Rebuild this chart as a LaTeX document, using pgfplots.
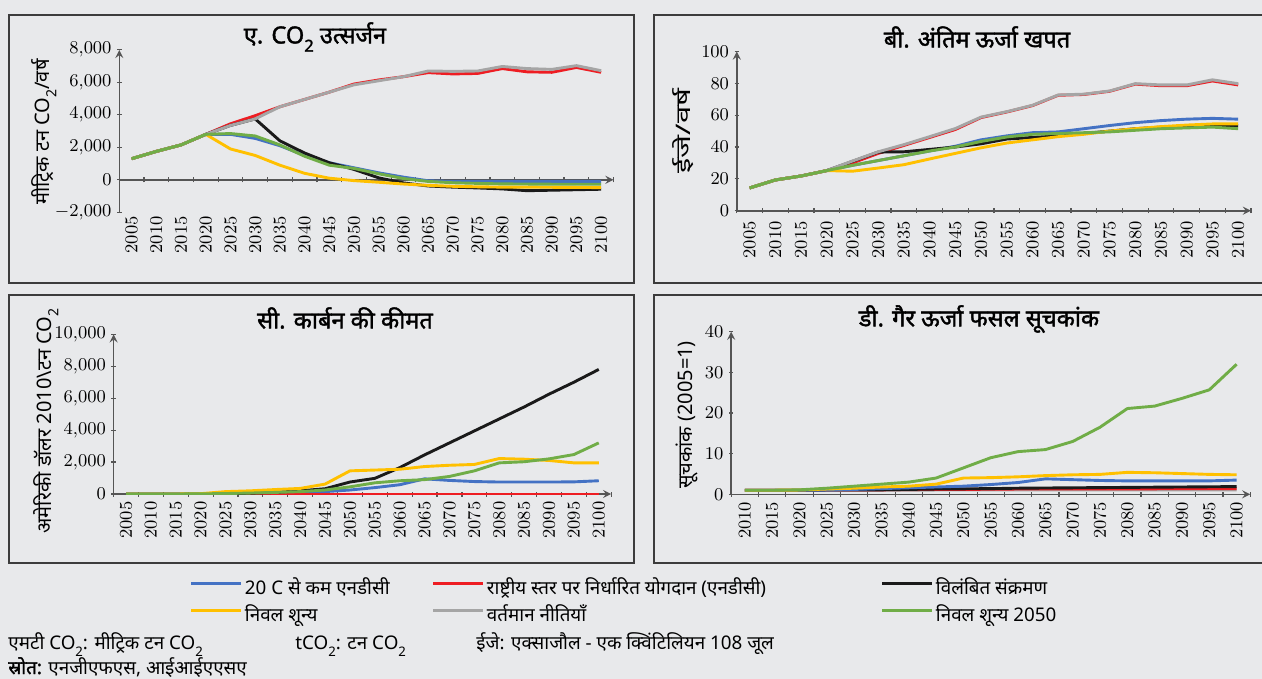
\documentclass[border=0pt]{standalone}
\usepackage{fontspec}
\setmainfont{Noto Sans}[Script=Devanagari]
\newfontfamily\tb{Noto Sans}[Script=Devanagari, FakeBold=1.6]
\usepackage{pgfplots}
\usepackage{pgfplotstable}
\pgfplotsset{compat=1.18}
\definecolor{bg}{HTML}{E8E9EB}
\definecolor{cblue}{HTML}{4472C4}
\definecolor{cred}{HTML}{EE1D23}
\definecolor{cblack}{HTML}{1A1A1A}
\definecolor{cyel}{HTML}{FFC000}
\definecolor{cgray}{HTML}{A5A5A5}
\definecolor{cgreen}{HTML}{70AD47}
\definecolor{axc}{HTML}{555555}
\definecolor{frm}{HTML}{3C3C3C}
\newcommand{\sub}[1]{\raisebox{-0.35em}{\scalebox{0.7}{#1}}}

\pgfplotstableread{
year blue red black yellow gray green
2005 1300 1300 1300 1300 1300 1300
2010 1750 1750 1750 1750 1750 1750
2015 2150 2150 2150 2150 2150 2150
2020 2800 2800 2800 2800 2800 2800
2025 2800 3450 3350 1900 3350 2850
2030 2550 3950 3750 1500 3750 2700
2035 2100 4500 2400 900 4500 2150
2040 1500 4950 1650 400 4950 1450
2045 1050 5400 1050 100 5400 900
2050 740 5900 640 -50 5850 700
2055 430 6150 120 -150 6100 370
2060 165 6350 -190 -260 6350 80
2065 -60 6600 -380 -340 6700 -100
2070 -100 6520 -450 -400 6680 -180
2075 -100 6550 -500 -430 6700 -220
2080 -100 6850 -560 -450 6980 -250
2085 -100 6650 -670 -450 6850 -260
2090 -100 6620 -640 -460 6800 -270
2095 -100 6920 -610 -470 7030 -270
2100 -100 6620 -580 -480 6720 -270
}\tabA

\pgfplotstableread{
year blue red black yellow gray green
2005 14.3 14.3 14.3 14.3 14.3 14.3
2010 19.3 19.3 19.3 19.3 19.3 19.3
2015 21.8 21.8 21.8 21.8 21.8 21.8
2020 25.2 25.2 25.2 25.2 25.2 25.2
2025 28.5 30 31 24.8 31.2 28.5
2030 31.5 36 36.8 26.8 37 31.5
2035 34.5 41 37 28.9 41.5 34.5
2040 37.5 46 38.5 32.5 46.5 37.5
2045 40.5 51 40 36 51.6 40
2050 44.5 58.5 42 39.5 58.8 43.5
2055 47 62 45 42.5 62.2 46.3
2060 49 66 46 44.5 66.2 48
2065 49.5 72.5 47 46.5 72.7 48.5
2070 51.5 73 48.5 48 73.2 49
2075 53.5 75 50 50 75.2 49.5
2080 55.3 79.5 51.5 51.5 79.8 50.5
2085 56.6 78.5 52.5 52.8 79 51.5
2090 57.5 78.5 53 53.8 79 52
2095 58 81.5 53.5 54.5 82.2 52.5
2100 57.5 79 53.5 54.5 79.8 51.5
}\tabB

\pgfplotstableread{
year blue red black yellow green
2005 0 0 0 0 0
2010 0 0 0 0 0
2015 0 0 0 0 0
2020 0 0 0 20 10
2025 10 0 20 150 30
2030 20 0 50 200 60
2035 50 0 100 280 100
2040 100 0 200 350 150
2045 150 0 330 620 250
2050 250 0 750 1450 450
2055 400 0 980 1500 700
2060 580 0 1650 1550 830
2065 950 0 2450 1720 900
2070 850 0 3200 1800 1100
2075 780 0 3950 1850 1450
2080 750 0 4700 2220 1950
2085 750 0 5450 2180 2020
2090 750 0 6250 2100 2200
2095 760 0 7000 1950 2470
2100 830 0 7800 1950 3200
}\tabC

\pgfplotstableread{
year blue red black yellow gray green
2010 1 1 1 1 1 1
2015 1 1 1 1 1 1
2020 1 1 1 1.05 1 1.1
2025 1.05 1.05 1.05 1.3 1 1.5
2030 1.2 1.1 1.05 1.5 1 2
2035 1.4 1.1 1.1 1.8 1 2.5
2040 1.6 1.15 1.2 2 1 3
2045 1.8 1.2 1.3 2.5 1.05 4
2050 2 1.2 1.35 4 1.05 6.5
2055 2.4 1.25 1.4 4.1 1.05 9
2060 2.9 1.3 1.5 4.3 1.05 10.5
2065 3.8 1.3 1.55 4.6 1.05 11
2070 3.6 1.3 1.6 4.8 1.05 13
2075 3.4 1.35 1.65 4.9 1.05 16.5
2080 3.3 1.35 1.7 5.4 1.05 21.1
2085 3.3 1.35 1.75 5.3 1.1 21.7
2090 3.3 1.4 1.8 5.1 1.1 23.6
2095 3.3 1.4 1.85 4.9 1.1 25.7
2100 3.5 1.4 1.9 4.8 1.1 32
}\tabD

\pgfplotsset{
  panel/.style={
    scale only axis,
    anchor=south west,
    axis line style={draw=axc, line width=0.8pt, -},
    tick style={draw=axc, line width=0.6pt},
    tick align=outside,
    major tick length=2.2pt,
    minor tick length=2.5pt,
    every major x tick/.append style={draw=none},
    y tick label style={font=\fontsize{9}{9}\selectfont, inner sep=2.6pt},
    x tick label style={font=\fontsize{9}{9}\selectfont, rotate=90, anchor=east, inner sep=1pt, /pgf/number format/1000 sep={}},
    scaled y ticks=false,
    hide obscured x ticks=false,
    hide obscured y ticks=false,
    every axis plot/.append style={line width=1.45pt, line join=round, mark=none},
    xtick={2005,2010,...,2100},
    minor xtick={2002.5,2007.5,...,2102.5},
    xmin=2002.5, xmax=2102.5,
  },
  legend image code/.code={\draw[#1, line width=1.5pt] (0pt,3.3pt) -- (25pt,3.3pt);},
}

\begin{document}
\begin{tikzpicture}
\path[use as bounding box] (0,0) rectangle (631pt,-339.5pt);
\fill[bg] (0,0) rectangle (631pt,-339.5pt);
\begin{scope}[draw=frm, line width=0.75pt]
\draw (4.5pt,-7.5pt) rectangle (317pt,-141.5pt);
\draw (632pt,-7.5pt) -- (327pt,-7.5pt) -- (327pt,-141.5pt) -- (632pt,-141.5pt);
\draw (4.5pt,-147.5pt) rectangle (317pt,-281.5pt);
\draw (632pt,-147.5pt) -- (327pt,-147.5pt) -- (327pt,-281.5pt) -- (632pt,-281.5pt);
\end{scope}

% Panel A
\begin{axis}[panel, at={(59.65pt,-106.15pt)}, width=247.1pt, height=81.2pt,
  ymin=-2000, ymax=8000, ytick={-2000,0,...,8000},
  axis x line=middle, axis y line=left, xticklabel shift=16pt]
\addplot[cblue] table[x=year,y=blue] {\tabA};
\addplot[cred] table[x=year,y=red] {\tabA};
\addplot[cblack] table[x=year,y=black] {\tabA};
\addplot[cyel] table[x=year,y=yellow] {\tabA};
\addplot[cgray] table[x=year,y=gray] {\tabA};
\addplot[cgreen] table[x=year,y=green] {\tabA};
\end{axis}

% Panel B
\begin{axis}[panel, at={(368.4pt,-105.35pt)}, width=257.1pt, height=79.6pt,
  ymin=0, ymax=100, ytick={0,20,...,100}, axis lines=left, xticklabel shift=3pt]
\addplot[cblue] table[x=year,y=blue] {\tabB};
\addplot[cred] table[x=year,y=red] {\tabB};
\addplot[cblack] table[x=year,y=black] {\tabB};
\addplot[cyel] table[x=year,y=yellow] {\tabB};
\addplot[cgray] table[x=year,y=gray] {\tabB};
\addplot[cgreen] table[x=year,y=green] {\tabB};
\end{axis}

% Panel C
\begin{axis}[panel, at={(56.8pt,-247pt)}, width=248.8pt, height=79.85pt,
  ymin=0, ymax=10000, ytick={0,2000,...,10000}, axis lines=left, xticklabel shift=1.5pt,
  legend columns=3, legend cell align=left,
  legend style={at={(0.1535,-0.5416)}, anchor=north west, draw=none, fill=none,
    inner sep=0pt, outer sep=0pt, column sep=1pt, row sep=3.5pt,
    nodes={inner sep=0pt, text height=7pt, text depth=3pt},
    font=\fontsize{9.4}{10}\selectfont}]
\addplot[cblue] table[x=year,y=blue] {\tabC};
\addlegendentry{\makebox[92.5pt][l]{20 C से कम एनडीसी}}
\addplot[cred] table[x=year,y=red] {\tabC};
\addlegendentry{\makebox[196pt][l]{राष्ट्रीय स्तर पर निर्धारित योगदान (एनडीसी)}}
\addplot[cblack] table[x=year,y=black] {\tabC};
\addlegendentry{विलंबित संक्रमण}
\addplot[cyel] table[x=year,y=yellow] {\tabC};
\addlegendentry{निवल शून्य}
\addlegendimage{cgray}
\addlegendentry{वर्तमान नीतियाँ}
\addplot[cgreen] table[x=year,y=green] {\tabC};
\addlegendentry{निवल शून्य 2050}
\end{axis}

% Panel D
\begin{axis}[panel, at={(365.6pt,-247.15pt)}, width=259.55pt, height=81.3pt,
  xmin=2007.5, xtick={2010,2015,...,2100}, minor xtick={2007.5,2012.5,...,2102.5},
  ymin=0, ymax=40, ytick={0,10,...,40}, axis lines=left, xticklabel shift=1.5pt]
\addplot[cgray] table[x=year,y=gray] {\tabD};
\addplot[cred] table[x=year,y=red] {\tabD};
\addplot[cblack] table[x=year,y=black] {\tabD};
\addplot[cblue] table[x=year,y=blue] {\tabD};
\addplot[cyel] table[x=year,y=yellow] {\tabD};
\addplot[cgreen] table[x=year,y=green] {\tabD};
\end{axis}

% titles
\node[font=\tb\fontsize{11.8}{13}\selectfont] at (157.5pt,-18.5pt) {ए. CO\sub{2} उत्सर्जन};
\node[font=\tb\fontsize{11.8}{13}\selectfont] at (488.5pt,-18.5pt) {बी. अंतिम ऊर्जा खपत};
\node[font=\tb\fontsize{11.8}{13}\selectfont] at (172.5pt,-159pt) {सी. कार्बन की कीमत};
\node[font=\tb\fontsize{11.8}{13}\selectfont] at (489.5pt,-159.5pt) {डी. गैर ऊर्जा फसल सूचकांक};

% y labels
\node[rotate=90, font=\fontsize{10}{11}\selectfont] at (22pt,-66pt) {मीट्रिक टन CO\sub{2}/वर्ष};
\node[rotate=90, font=\fontsize{10}{11}\selectfont] at (341.5pt,-65.5pt) {\scalebox{1.55}[1]{ईजे/वर्ष}};
\node[rotate=90, font=\fontsize{10}{11}\selectfont] at (23pt,-210.5pt) {अमेरिकी डॉलर 2010\textbackslash टन CO\sub{2}};
\node[rotate=90, font=\fontsize{10}{11}\selectfont] at (343.5pt,-207.5pt) {सूचकांक (2005=1)};

% footnotes
\begin{scope}[every node/.style={anchor=base west, font=\fontsize{9.4}{10}\selectfont, inner sep=0pt}]
\node at (4pt,-324.75pt) {एमटी CO\sub{2}: मीट्रिक टन CO\sub{2}};
\node at (147.5pt,-324.75pt) {tCO\sub{2}: टन CO\sub{2}};
\node at (238pt,-324.75pt) {ईजे: एक्साजौल - एक क्विंटिलियन 108 जूल};
\node at (4pt,-337pt) {{\tb स्रोत:} एनजीएफएस, आईआईएएसए};
\end{scope}
\end{tikzpicture}
\end{document}
